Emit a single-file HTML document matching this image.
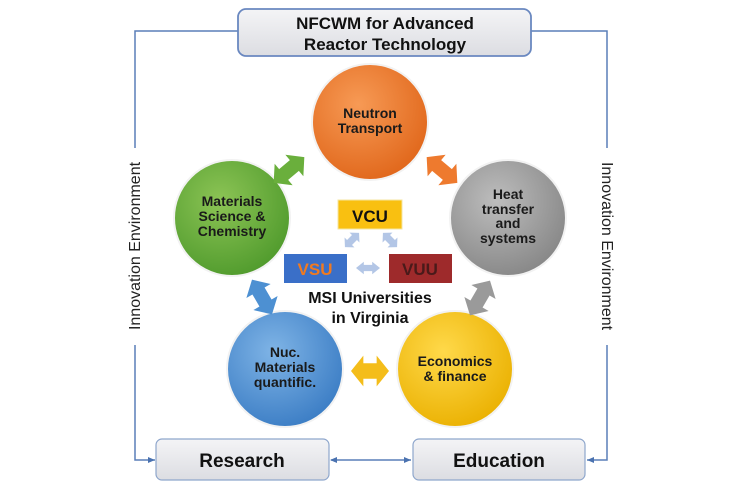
<!DOCTYPE html>
<html><head><meta charset="utf-8"><style>
html,body{margin:0;padding:0;background:#fff;}
svg{display:block;}
text{font-family:"Liberation Sans",sans-serif;}
</style></head><body>
<svg width="741" height="486" viewBox="0 0 741 486" xmlns="http://www.w3.org/2000/svg">
<defs>
<radialGradient id="go" cx="40%" cy="35%" r="70%"><stop offset="0" stop-color="#f79a55"/><stop offset="1" stop-color="#e0661a"/></radialGradient>
<radialGradient id="gg" cx="40%" cy="35%" r="70%"><stop offset="0" stop-color="#8cc455"/><stop offset="1" stop-color="#4f9a2c"/></radialGradient>
<radialGradient id="ggr" cx="40%" cy="35%" r="70%"><stop offset="0" stop-color="#bdbdbd"/><stop offset="1" stop-color="#868686"/></radialGradient>
<radialGradient id="gb" cx="40%" cy="35%" r="70%"><stop offset="0" stop-color="#7fb4e6"/><stop offset="1" stop-color="#3a7cc4"/></radialGradient>
<radialGradient id="gy" cx="40%" cy="35%" r="70%"><stop offset="0" stop-color="#ffd94a"/><stop offset="1" stop-color="#eab000"/></radialGradient>
<linearGradient id="box" x1="0" y1="0" x2="0" y2="1"><stop offset="0" stop-color="#f4f4f6"/><stop offset="1" stop-color="#dcdde2"/></linearGradient>
<polygon id="da" points="-20,0 -7,-14 -7,-7 7,-7 7,-14 20,0 7,14 7,7 -7,7 -7,14"/>
<marker id="ar" markerWidth="8" markerHeight="8" refX="7" refY="4" orient="auto" markerUnits="userSpaceOnUse"><path d="M0,1 L7,4 L0,7 z" fill="#4a72b0"/></marker>
<marker id="al" markerWidth="8" markerHeight="8" refX="1" refY="4" orient="auto" markerUnits="userSpaceOnUse"><path d="M7,1 L0,4 L7,7 z" fill="#4a72b0"/></marker>
</defs>
<g stroke="#5a7fb8" stroke-width="1.5" fill="none">
<polyline points="238,31 135,31 135,148"/>
<polyline points="135,345 135,460 155,460" marker-end="url(#ar)"/>
<polyline points="531,31 607,31 607,148"/>
<polyline points="607,345 607,460 587,460" marker-end="url(#ar)"/>
<line x1="331" y1="460" x2="411" y2="460" marker-start="url(#al)" marker-end="url(#ar)"/>
</g>
<text transform="translate(140,246) rotate(-90)" text-anchor="middle" font-size="16" fill="#222">Innovation Environment</text>
<text transform="translate(602,246) rotate(90)" text-anchor="middle" font-size="16" fill="#222">Innovation Environment</text>
<rect x="238" y="9" width="293" height="47" rx="8" fill="url(#box)" stroke="#6a88c0" stroke-width="1.8"/>
<text x="385" y="29" text-anchor="middle" font-size="17" font-weight="bold" fill="#111">NFCWM for Advanced</text>
<text x="385" y="50" text-anchor="middle" font-size="17" font-weight="bold" fill="#111">Reactor Technology</text>
<g stroke="#f2f2f2" stroke-width="2">
<circle cx="370" cy="122" r="58" fill="url(#go)"/>
<circle cx="232" cy="218" r="58" fill="url(#gg)"/>
<circle cx="508" cy="218" r="58" fill="url(#ggr)"/>
<circle cx="285" cy="369" r="58" fill="url(#gb)"/>
<circle cx="455" cy="369" r="58" fill="url(#gy)"/>
</g>
<g font-size="14" font-weight="bold" fill="#1a1a1a" text-anchor="middle">
<text x="370" y="118">Neutron</text><text x="370" y="133">Transport</text>
<text x="232" y="206">Materials</text><text x="232" y="221">Science &amp;</text><text x="232" y="236">Chemistry</text>
<text x="508" y="199">Heat</text><text x="508" y="214">transfer</text><text x="508" y="228">and</text><text x="508" y="243">systems</text>
<text x="285" y="357">Nuc.</text><text x="285" y="372">Materials</text><text x="285" y="387">quantific.</text>
<text x="455" y="366">Economics</text><text x="455" y="381">&amp; finance</text>
</g>
<use href="#da" transform="translate(289,170) rotate(-40)" fill="#6aaf3c"/>
<use href="#da" transform="translate(442,170) rotate(40)" fill="#ee7a2e"/>
<use href="#da" transform="translate(262,297) rotate(60)" fill="#4d90d2"/>
<use href="#da" transform="translate(480,298) rotate(-60)" fill="#9a9a9a"/>
<use href="#da" transform="translate(370,371) scale(0.95,1.1)" fill="#f4bd1a"/>
<rect x="338" y="200" width="64" height="29" fill="#f9c011" stroke="#f5e6a0" stroke-width="1"/>
<text x="370" y="222" text-anchor="middle" font-size="17" font-weight="bold" fill="#111">VCU</text>
<rect x="284" y="254" width="63" height="29" fill="#3a6fc8"/>
<text x="315" y="275" text-anchor="middle" font-size="17" font-weight="bold" fill="#f07a20">VSU</text>
<rect x="389" y="254" width="63" height="29" fill="#9e2a2b"/>
<text x="420" y="275" text-anchor="middle" font-size="17" font-weight="bold" fill="#4a1a1a">VUU</text>
<g fill="#b3c6e6">
<use href="#da" transform="translate(352,240) rotate(-45) scale(0.5,0.5)"/>
<use href="#da" transform="translate(390,240) rotate(45) scale(0.5,0.5)"/>
<use href="#da" transform="translate(368,268) scale(0.6,0.45)"/>
</g>
<text x="370" y="303" text-anchor="middle" font-size="16" font-weight="bold" fill="#111">MSI Universities</text>
<text x="370" y="323" text-anchor="middle" font-size="16" font-weight="bold" fill="#111">in Virginia</text>
<rect x="156" y="439" width="173" height="41" rx="6" fill="url(#box)" stroke="#8ea6cc" stroke-width="1.2"/>
<text x="242" y="467" text-anchor="middle" font-size="19" font-weight="bold" fill="#111">Research</text>
<rect x="413" y="439" width="172" height="41" rx="6" fill="url(#box)" stroke="#8ea6cc" stroke-width="1.2"/>
<text x="499" y="467" text-anchor="middle" font-size="19" font-weight="bold" fill="#111">Education</text>
</svg>
</body></html>
